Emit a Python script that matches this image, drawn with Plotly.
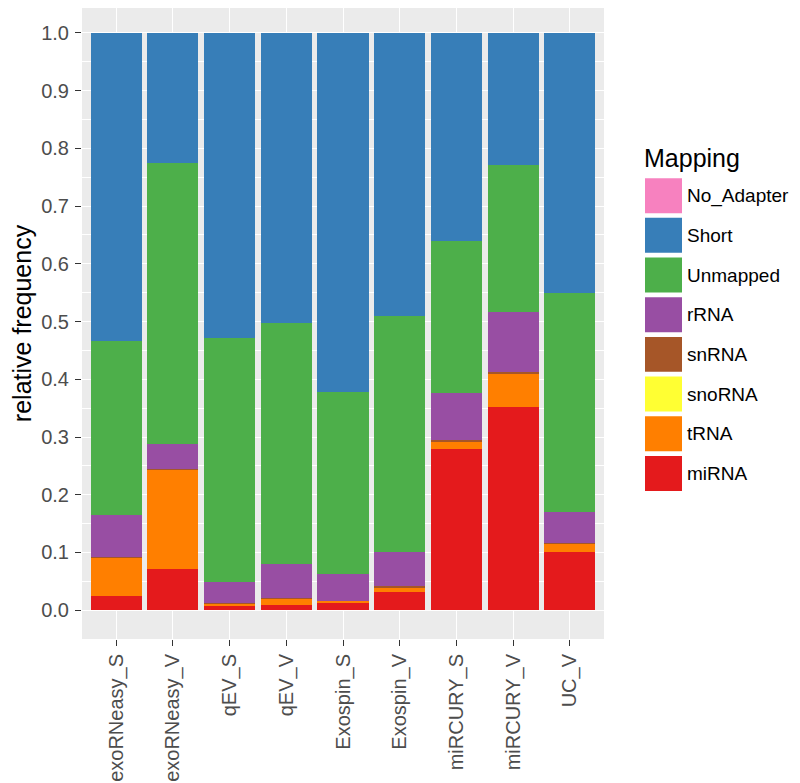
import plotly.graph_objects as go

# ---------------- data ----------------
samples = ["exoRNeasy_S", "exoRNeasy_V", "qEV_S", "qEV_V", "Exospin_S",
           "Exospin_V", "miRCURY_S", "miRCURY_V", "UC_V"]

miRNA      = [0.025, 0.071, 0.0075, 0.009, 0.012, 0.032, 0.279, 0.352, 0.101]
tRNA       = [0.066, 0.173, 0.004, 0.011, 0.004, 0.008, 0.014, 0.058, 0.015]
snoRNA     = [0.000, 0.000, 0.000, 0.000, 0.000, 0.000, 0.000, 0.000, 0.000]
snRNA      = [0.001, 0.001, 0.0005, 0.0005, 0.0005, 0.001, 0.001, 0.002, 0.001]
rRNA       = [0.072, 0.043, 0.037, 0.059, 0.0455, 0.060, 0.083, 0.104, 0.053]
Unmapped   = [0.302, 0.487, 0.423, 0.4175, 0.316, 0.408, 0.263, 0.255, 0.379]
Short      = [0.534, 0.225, 0.528, 0.503, 0.622, 0.491, 0.360, 0.229, 0.451]
No_Adapter = [0.000, 0.000, 0.000, 0.000, 0.000, 0.000, 0.000, 0.000, 0.000]

y_ticks = [0.0, 0.1, 0.2, 0.3, 0.4, 0.5, 0.6, 0.7, 0.8, 0.9, 1.0]
y_tick_labels = ["0.0", "0.1", "0.2", "0.3", "0.4", "0.5", "0.6", "0.7", "0.8", "0.9", "1.0"]

legend_title = "Mapping"
legend_labels = ["No_Adapter", "Short", "Unmapped", "rRNA", "snRNA", "snoRNA", "tRNA", "miRNA"]
colors = {
    "No_Adapter": "#F781BF",
    "Short": "#377EB8",
    "Unmapped": "#4DAF4A",
    "rRNA": "#984EA3",
    "snRNA": "#A65628",
    "snoRNA": "#FFFF33",
    "tRNA": "#FF7F00",
    "miRNA": "#E41A1C",
}

# stacking order, bottom to top
stack = [("miRNA", miRNA), ("tRNA", tRNA), ("snoRNA", snoRNA), ("snRNA", snRNA),
         ("rRNA", rRNA), ("Unmapped", Unmapped), ("Short", Short), ("No_Adapter", No_Adapter)]

# ---------------- geometry ----------------
# The page body has an 8px default margin, so everything is placed 8px up/left.
OFF = 8
W, H = 800, 783
L = 82 - OFF                 # panel left at page x=82
plot_w = 522                 # panel right at page x=604
R = W - L - plot_w
T = 0                        # panel top at page y=8
plot_h = 631.4               # panel bottom at page y~639.4
B = H - T - plot_h

y_top = 1 + (33 - OFF) / 577.5   # 1.0 sits at page y=33
y_bot = -0.05

FONT = "Liberation Sans, Arial, Helvetica, sans-serif"

fig = go.Figure()
for name, vals in stack:
    fig.add_trace(go.Bar(
        x=samples, y=vals, name=name,
        marker=dict(color=colors[name], line=dict(width=0)),
        showlegend=False,
    ))

fig.update_layout(
    width=W, height=H,
    margin=dict(l=L, r=R, t=T, b=B, pad=0),
    barmode="stack",
    bargap=0.1,
    paper_bgcolor="white",
    plot_bgcolor="#EBEBEB",
    font=dict(family=FONT, color="#4D4D4D"),
    xaxis=dict(
        range=[-0.6, len(samples) - 0.4],
        showgrid=True, gridcolor="white", gridwidth=1.1,
        ticks="outside", ticklen=6, tickwidth=1, tickcolor="#333333",
        tickangle=-90,
        tickfont=dict(size=20, color="#4D4D4D", family=FONT),
        zeroline=False, showline=False,
    ),
    yaxis=dict(
        range=[y_bot, y_top],
        tickvals=y_ticks, ticktext=y_tick_labels,
        showgrid=True, gridcolor="white", gridwidth=1.1,
        minor=dict(showgrid=True, gridcolor="white", gridwidth=0.5, dtick=0.05, tick0=0),
        ticks="outside", ticklen=6, tickwidth=1, tickcolor="#333333",
        ticklabelstandoff=2,
        tickfont=dict(size=20, color="#4D4D4D", family=FONT),
        zeroline=False, showline=False,
        title=dict(text="relative frequency", font=dict(size=25, color="black", family=FONT), standoff=4),
    ),
)

# ---------------- custom legend (ggplot style) ----------------
def px_to_paper_x(px):          # px given in page coordinates
    return (px - OFF - L) / plot_w

def px_to_paper_y(py):
    return (T + plot_h - (py - OFF)) / plot_h

key_x0, key_x1 = 645, 682
key_top0, key_h, key_step = 178.3, 35, 39.7

fig.add_annotation(
    x=px_to_paper_x(642), y=px_to_paper_y(158), xref="paper", yref="paper",
    text=legend_title, showarrow=False, xanchor="left", yanchor="middle",
    font=dict(size=25, color="black", family=FONT),
)
for i, lab in enumerate(legend_labels):
    top = key_top0 + i * key_step
    fig.add_shape(
        type="rect", xref="paper", yref="paper",
        x0=px_to_paper_x(key_x0), x1=px_to_paper_x(key_x1),
        y0=px_to_paper_y(top + key_h), y1=px_to_paper_y(top),
        fillcolor=colors[lab], line=dict(width=0),
    )
    fig.add_annotation(
        x=px_to_paper_x(685), y=px_to_paper_y(top + key_h / 2), xref="paper", yref="paper",
        text=lab, showarrow=False, xanchor="left", yanchor="middle",
        font=dict(size=19, color="black", family=FONT),
    )

fig.write_html("out.html")
